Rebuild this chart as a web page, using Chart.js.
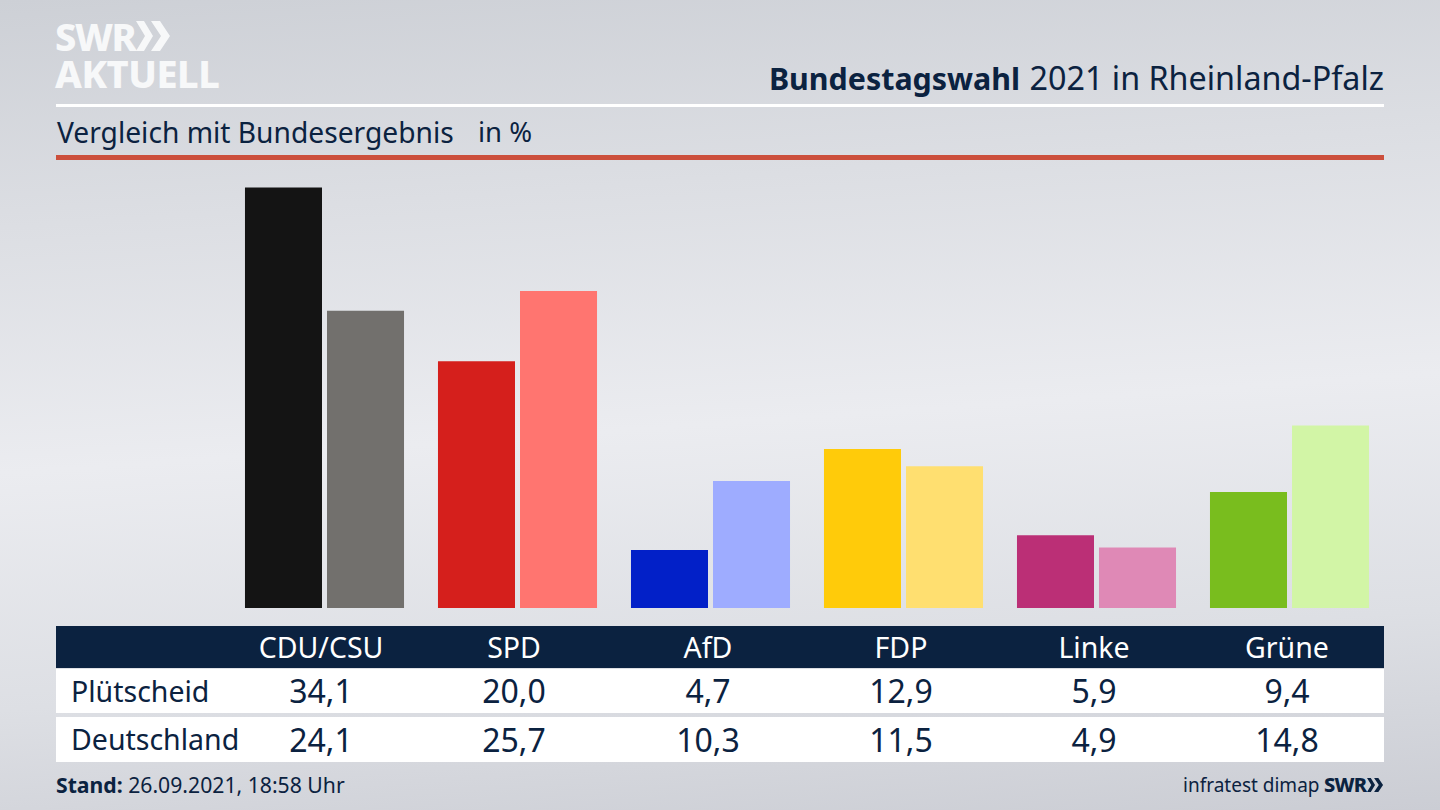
<!DOCTYPE html>
<html lang="de">
<head>
<meta charset="utf-8">
<title>Bundestagswahl 2021 in Rheinland-Pfalz</title>
<script src="https://cdn.jsdelivr.net/npm/chart.js@4"></script>
<style>
  html, body { margin: 0; padding: 0; }
  body {
    width: 1440px; height: 810px; position: relative; overflow: hidden;
    background: linear-gradient(176deg, #cdd0d6 0%, #dcdee3 25%, #ebecf0 52%, #dddfe4 78%, #cbcdd4 100%);
    font-family: "Noto Sans", sans-serif; color: #0b2240;
  }
  .abs { position: absolute; white-space: nowrap; }
  #chartBox { position: absolute; left: 228px; top: 164px; width: 1158px; height: 444px; }
  #title { right: 56px; top: 56px; font-size: 32.3px; line-height: 42px; }
  #title b { font-size: 30.4px; margin-right: 1px; }
  #subtitle { left: 57px; top: 112px; font-size: 28.2px; line-height: 40px; }
  #unit { left: 478px; top: 112px; font-size: 27.5px; line-height: 40px; }
  #whiteRule { left: 56px; top: 104px; width: 1328px; height: 3px; background: #fff; }
  #redRule { left: 56px; top: 155px; width: 1328px; height: 5px; background: #cc4f3c; }
  .band { position: absolute; left: 56px; width: 1328px; }
  .cell { position: absolute; top: 0; width: 180px; text-align: center; font-size: 32px; }
  .head .cell { font-size: 28.5px; }
  .rowName { position: absolute; left: 15px; top: 0; font-size: 28.5px; }
  #stand { left: 56px; top: 770px; font-size: 21.2px; line-height: 30px; }
  #source { left: 1183px; top: 770px; font-size: 19px; line-height: 30px; }
  .logo { font-weight: 800; color: #f7f8f9; }
</style>
</head>
<body>
  <div class="abs logo" style="left:55px;top:13px;font-size:38px;line-height:46px;letter-spacing:-1.5px;">SWR</div>
  <svg class="abs" style="left:136px;top:19px;" width="36" height="34" viewBox="0 0 36 34">
    <path d="M0 2h8l9 15-9 15H0l9-15z M15 2h9l10 15-10 15h-9l10-15z" fill="#f7f8f9"/>
  </svg>
  <div class="abs logo" style="left:55px;top:50px;font-size:38px;line-height:46px;letter-spacing:-0.5px;">AKTUELL</div>

  <div class="abs" id="title"><b>Bundestagswahl</b> 2021 in Rheinland-Pfalz</div>
  <div class="abs" id="whiteRule"></div>
  <div class="abs" id="subtitle">Vergleich mit Bundesergebnis</div>
  <div class="abs" id="unit">in %</div>
  <div class="abs" id="redRule"></div>

  <div id="chartBox"><canvas id="chart"></canvas></div>

  <div id="table"></div>

  <div class="abs" id="stand"><b>Stand:</b> 26.09.2021, 18:58 Uhr</div>
  <div class="abs" id="source">infratest dimap</div>
  <div class="abs" style="left:1324px;top:770px;font-size:20px;line-height:30px;font-weight:800;letter-spacing:-0.8px;">SWR</div>
  <svg class="abs" style="left:1367px;top:777px;" width="17" height="16" viewBox="0 0 36 34">
    <path d="M0 2h8l9 15-9 15H0l9-15z M15 2h9l10 15-10 15h-9l10-15z" fill="#0b2240"/>
  </svg>

<script>
const parties = ["CDU/CSU", "SPD", "AfD", "FDP", "Linke", "Grüne"];
const localName = "Plütscheid";
const nationalName = "Deutschland";
const localValues = [34.1, 20.0, 4.7, 12.9, 5.9, 9.4];
const nationalValues = [24.1, 25.7, 10.3, 11.5, 4.9, 14.8];
const localColors = ["#141414", "#d51f1c", "#0220c8", "#ffcb0a", "#bb2f76", "#79bd1e"];
const nationalColors = ["#72706d", "#ff7570", "#9eacff", "#ffdf70", "#df89b6", "#d2f5a6"];
const columnCenters = [265, 458, 652, 845, 1038, 1231];

function fmt(v) {
    return v.toFixed(1).replace(".", ",");
}

function addBand(top, height, background, color, name, labels) {
    const band = document.createElement("div");
    band.className = name ? "band" : "band head";
    band.style.top = top + "px";
    band.style.height = height + "px";
    band.style.lineHeight = height + "px";
    band.style.background = background;
    band.style.color = color;
    if (name) {
        const rowName = document.createElement("div");
        rowName.className = "rowName";
        rowName.textContent = name;
        band.appendChild(rowName);
    }
    labels.forEach((label, i) => {
        const cell = document.createElement("div");
        cell.className = "cell";
        cell.style.left = (columnCenters[i] - 90) + "px";
        cell.textContent = label;
        band.appendChild(cell);
    });
    document.getElementById("table").appendChild(band);
}

addBand(626, 42, "#0b2240", "#ffffff", "", parties);
addBand(669, 44, "#ffffff", "#0b2240", localName, localValues.map(fmt));
addBand(717, 45, "#ffffff", "#0b2240", nationalName, nationalValues.map(fmt));

new Chart(document.getElementById("chart"), {
    type: "bar",
    data: {
        labels: parties,
        datasets: [
            { label: localName, data: localValues, backgroundColor: localColors },
            { label: nationalName, data: nationalValues, backgroundColor: nationalColors }
        ]
    },
    options: {
        responsive: true,
        maintainAspectRatio: false,
        animation: false,
        categoryPercentage: 0.85,
        barPercentage: 0.939,
        layout: { padding: 0 },
        plugins: { legend: { display: false }, tooltip: { enabled: false } },
        scales: {
            x: { display: false },
            y: { display: false, min: 0, max: 36 }
        }
    }
});
</script>
</body>
</html>
